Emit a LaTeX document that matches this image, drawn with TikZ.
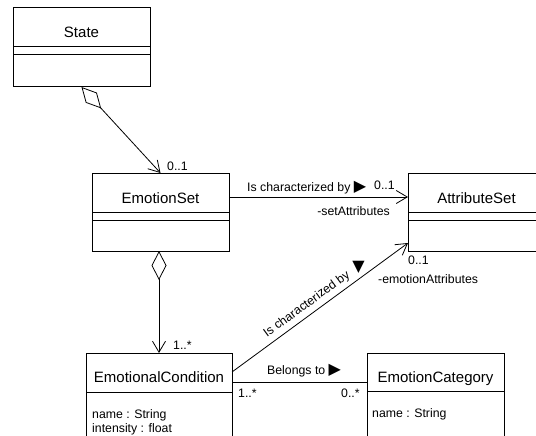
\documentclass[tikz,border=0pt]{standalone}
\usepackage{fontspec}
\setmainfont{Liberation Sans}
\newfontfamily\symfont{DejaVu Sans}
\usetikzlibrary{arrows.meta}

\begin{document}
\begin{tikzpicture}[x=1pt,y=-1pt,
  classbox/.style={draw,line width=1pt,inner sep=0pt,outer sep=0pt},
  classname/.style={anchor=base,inner sep=0pt,font=\fontsize{15}{18}\selectfont},
  lbl/.style={inner sep=0pt,font=\fontsize{12.3}{14}\selectfont},
  assoc/.style={line width=0.8pt,-{Straight Barb[length=11pt,width=13pt]}},
  aggr/.style={line width=0.8pt,{Diamond[open,length=29pt,width=15pt]}-{Straight Barb[length=11pt,width=13pt]}}]
  \useasboundingbox (0,0) rectangle (536,436);
  \clip (0,0) rectangle (536,436);

  % classes
  \node[classbox,minimum width=137pt,minimum height=79pt] (state) at (81.5,47.5) {};
  \node[classname] (statetitle) at (81.5,38) {State};
  \draw[line width=1pt] ([yshift=-39pt]state.north west) -- ([yshift=-39pt]state.north east);
  \draw[line width=1pt] ([yshift=-47pt]state.north west) -- ([yshift=-47pt]state.north east);

  \node[classbox,minimum width=137pt,minimum height=78pt] (emoset) at (160.5,212) {};
  \node[classname] (emosettitle) at (160.5,203) {EmotionSet};
  \draw[line width=1pt] ([yshift=-39pt]emoset.north west) -- ([yshift=-39pt]emoset.north east);
  \draw[line width=1pt] ([yshift=-47pt]emoset.north west) -- ([yshift=-47pt]emoset.north east);

  \node[classbox,minimum width=137pt,minimum height=78pt] (attrset) at (476.5,212) {};
  \node[classname] (attrsettitle) at (476.5,203) {AttributeSet};
  \draw[line width=1pt] ([yshift=-39pt]attrset.north west) -- ([yshift=-39pt]attrset.north east);
  \draw[line width=1pt] ([yshift=-47pt]attrset.north west) -- ([yshift=-47pt]attrset.north east);

  \node[classbox,minimum width=146pt,minimum height=92pt] (emocond) at (159,399) {};
  \node[classname] (emocondtitle) at (159,382) {EmotionalCondition};
  \draw[line width=1pt] ([yshift=-39pt]emocond.north west) -- ([yshift=-39pt]emocond.north east);
  \node[lbl,anchor=base west] (condname) at (92,418) {name : String};
  \node[lbl,anchor=base west] (condintensity) at (92,432) {intensity : float};

  \node[classbox,minimum width=137pt,minimum height=92pt] (emocat) at (435.5,399) {};
  \node[classname] (emocattitle) at (435.5,382) {EmotionCategory};
  \draw[line width=1pt] ([yshift=-38pt]emocat.north west) -- ([yshift=-38pt]emocat.north east);
  \node[lbl,anchor=base west] (catname) at (372,417.5) {name : String};

  % associations
  \draw[aggr] (state.south) -- (emoset.north);
  \node[lbl,anchor=base west] (stateend) at (167,170) {0..1};

  \draw[assoc] ([yshift=-24pt]emoset.north east) -- ([yshift=-24pt]attrset.north west);
  \node[lbl,anchor=base west] (setlabel) at (247,191.5) {Is characterized by {\symfont\fontsize{16}{16}\selectfont ▶}};
  \node[lbl,anchor=base west] (setend) at (374,189.5) {0..1};
  \node[lbl,anchor=base east] (setrole) at (390,215) {-setAttributes};

  \draw[assoc] ([yshift=-19pt]emocond.north east) -- node[lbl,sloped,above=4pt,pos=0.46] (condlabel) {Is characterized by} ([yshift=8pt]attrset.south west);
  \node[lbl] (condarrow) at (358.5,267) {\symfont\fontsize{16}{16}\selectfont ▼};
  \node[lbl,anchor=base west] (condend) at (408,264) {0..1};
  \node[lbl,anchor=base west] (condrole) at (378,283) {-emotionAttributes};

  \draw[aggr] (emocond.north |- emoset.south) -- (emocond.north);
  \node[lbl,anchor=base west] (condmult) at (173,349.5) {1..*};

  \draw[line width=0.8pt] ([yshift=-29pt]emocond.north east) -- ([yshift=-29pt]emocat.north west);
  \node[lbl,anchor=base west] (catlabel) at (267,374) {Belongs to {\symfont\fontsize{16}{16}\selectfont ▶}};
  \node[lbl,anchor=base west] (catfrom) at (238,397) {1..*};
  \node[lbl,anchor=base west] (catto) at (341,397) {0..*};
\end{tikzpicture}
\end{document}
